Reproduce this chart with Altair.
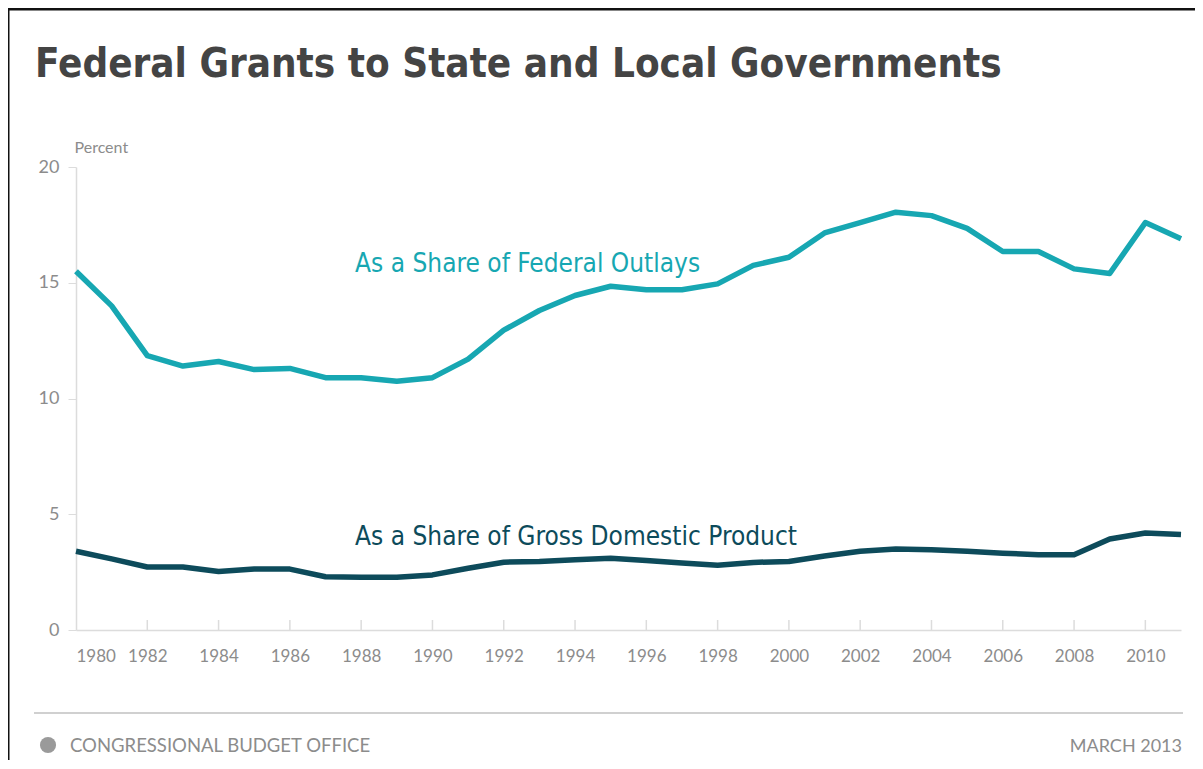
import altair as alt
import pandas as pd

years = list(range(1980, 2012))
outlays = [15.5, 14.0, 11.85, 11.4, 11.6, 11.25, 11.3, 10.9, 10.9, 10.75, 10.9, 11.7,
           12.95, 13.8, 14.45, 14.85, 14.7, 14.7, 14.95, 15.75, 16.1, 17.15, 17.6, 18.05,
           17.9, 17.35, 16.35, 16.35, 15.6, 15.4, 17.6, 16.9]
gdp = [3.4, 3.07, 2.72, 2.72, 2.53, 2.63, 2.63, 2.3, 2.28, 2.28, 2.38, 2.67,
       2.93, 2.96, 3.03, 3.1, 3.0, 2.89, 2.8, 2.92, 2.96, 3.2, 3.4, 3.5,
       3.47, 3.4, 3.32, 3.25, 3.25, 3.93, 4.19, 4.12]
series_names = ["As a Share of Federal Outlays", "As a Share of Gross Domestic Product"]
series_colors = ["#17a7b2", "#0d4b5b"]
label_year = [1987.83, 1987.83]
label_value = [15.47, 3.68]
tick_years = list(range(1982, 2011, 2))
axis_years = list(range(1980, 2011, 2))

W, H = 1105, 463

rows = []
for y, a, b in zip(years, outlays, gdp):
    rows.append({"year": y, "value": a, "series": series_names[0]})
    rows.append({"year": y, "value": b, "series": series_names[1]})
df = pd.DataFrame(rows)
labels_df = pd.DataFrame({"year": label_year, "value": label_value, "series": series_names})
ticks_df = pd.DataFrame({"year": tick_years})

xscale = alt.Scale(domain=[1980, 2011], nice=False, zero=False)
yscale = alt.Scale(domain=[0, 20], nice=False)
color = alt.Color("series:N", scale=alt.Scale(domain=series_names, range=series_colors), legend=None)

FONT = "Lato, DejaVu Sans, sans-serif"

lines = alt.Chart(df).mark_line(strokeWidth=5.5, strokeJoin="round", strokeCap="butt").encode(
    x=alt.X("year:Q", scale=xscale,
            axis=alt.Axis(values=axis_years, format="d", title=None, grid=False, ticks=False,
                          domainColor="#dcdcdc", domainWidth=1.5, labelPadding=18,
                          labelFont=FONT, labelFontSize=17, labelColor="#8c8c8c")),
    y=alt.Y("value:Q", scale=yscale,
            axis=alt.Axis(values=[0, 5, 10, 15, 20], grid=False, tickSize=8, tickColor="#dcdcdc",
                          domainColor="#dcdcdc", domainWidth=1.5, labelPadding=9,
                          labelFont=FONT, labelFontSize=18, labelColor="#8c8c8c",
                          title="Percent", titleAngle=0, titleAlign="left", titleX=-2, titleY=-15,
                          titleBaseline="alphabetic", titleFont=FONT, titleFontSize=16,
                          titleFontWeight="normal", titleColor="#8c8c8c")),
    color=color,
)

xticks = alt.Chart(ticks_df).mark_rule(color="#dcdcdc", strokeWidth=1.5).encode(
    x=alt.X("year:Q", scale=xscale), y=alt.value(H), y2=alt.value(H - 10))

series_labels = alt.Chart(labels_df).mark_text(
    align="left", baseline="alphabetic", font="DejaVu Sans Condensed, sans-serif", fontSize=26
).encode(x=alt.X("year:Q", scale=xscale), y=alt.Y("value:Q", scale=yscale), text="series:N", color=color)

one = alt.Data(values=[{}])

title = alt.Chart(one).mark_text(
    align="left", baseline="alphabetic", font="DejaVu Sans Condensed, sans-serif",
    fontSize=40, fontWeight="bold", color="#444444"
).encode(x=alt.value(-41), y=alt.value(-90), text=alt.value("Federal Grants to State and Local Governments"))

frame_left = alt.Chart(one).mark_rule(color="#111111", strokeWidth=3).encode(
    x=alt.value(-68), y=alt.value(-159), y2=alt.value(H + 140))
frame_top = alt.Chart(one).mark_rule(color="#111111", strokeWidth=3).encode(
    x=alt.value(-69), x2=alt.value(W + 14), y=alt.value(-158))

footer_rule = alt.Chart(one).mark_rule(color="#d0d0d0", strokeWidth=2).encode(
    x=alt.value(-42), x2=alt.value(1107), y=alt.value(546))

logo = alt.Chart(one).mark_point(shape="circle", filled=True, color="#9a9a9a", size=260, opacity=1).encode(
    x=alt.value(-28), y=alt.value(578))

cbo = alt.Chart(one).mark_text(align="left", baseline="alphabetic", font=FONT, fontSize=18.5,
                                color="#8c8c8c").encode(
    x=alt.value(-6), y=alt.value(585), text=alt.value("CONGRESSIONAL BUDGET OFFICE"))

date = alt.Chart(one).mark_text(align="right", baseline="alphabetic", font=FONT, fontSize=18,
                                 color="#8c8c8c").encode(
    x=alt.value(1106), y=alt.value(585), text=alt.value("MARCH 2013"))

chart = alt.layer(frame_left, frame_top, xticks, lines, series_labels, title, footer_rule, logo, cbo, date).properties(
    width=W, height=H,
    autosize=alt.AutoSizeParams(type="none"),
    padding={"left": 68, "top": 159, "right": 14, "bottom": 130},
).configure_view(stroke=None)

chart.save("out.html", embed_options={"renderer": "svg", "actions": False})
